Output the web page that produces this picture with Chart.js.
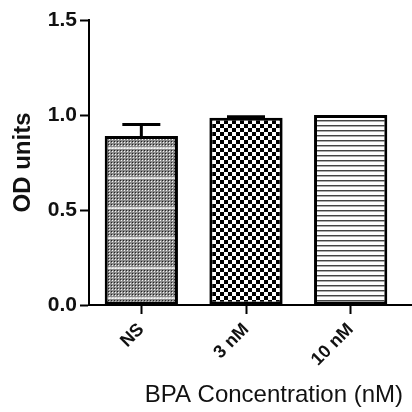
<!DOCTYPE html>
<html>
<head>
<meta charset="utf-8">
<script src="https://cdn.jsdelivr.net/npm/chart.js@4.4.1/dist/chart.umd.min.js"></script>
<style>
html,body{margin:0;padding:0;background:#fff;}
#wrap{width:412px;height:412px;position:relative;}
</style>
</head>
<body>
<div id="wrap"><canvas id="c" width="412" height="412"></canvas></div>
<script>
const categories = ['NS', '3 nM', '10 nM'];
const odValues = [0.89, 0.985, 1.0];
const odErrors = [0.06, 0.006, 0.0];
const yTickValues = [0.0, 0.5, 1.0, 1.5];
const yTitle = 'OD units';
const xTitle = 'BPA Concentration (nM)';

const canvas = document.getElementById('c');
const ctx = canvas.getContext('2d');

function makePattern(w, h, draw) {
  const c = document.createElement('canvas');
  c.width = w; c.height = h;
  const g = c.getContext('2d');
  draw(g);
  return ctx.createPattern(c, 'repeat');
}

// fine dotted grey with faint light stripes
const patDots = makePattern(3, 30, g => {
  g.fillStyle = '#8a8a8a'; g.fillRect(0, 0, 3, 30);
  for (let y = 0; y < 30; y += 3) {
    g.fillStyle = '#222'; g.fillRect(0, y, 1, 1);
    g.fillStyle = '#f4f4f4'; g.fillRect(1, y + 1, 1, 1);
  }
  g.fillStyle = 'rgba(255,255,255,0.7)'; g.fillRect(0, 27, 3, 2);
});
// checkerboard
const patCheck = makePattern(8, 8, g => {
  g.fillStyle = '#fff'; g.fillRect(0, 0, 8, 8);
  g.fillStyle = '#000';
  g.fillRect(0, 0, 4, 4);
  g.fillRect(4, 4, 4, 4);
});
// horizontal lines
const patLines = makePattern(4, 5, g => {
  g.fillStyle = '#fff'; g.fillRect(0, 0, 4, 5);
  g.fillStyle = '#444'; g.fillRect(0, 0, 4, 1);
  g.fillStyle = '#aaa'; g.fillRect(0, 1, 4, 1);
});

const errorBars = {
  id: 'errorBars',
  afterDatasetsDraw(chart) {
    const meta = chart.getDatasetMeta(0);
    const ys = chart.scales.y;
    const c = chart.ctx;
    c.save();
    c.strokeStyle = '#000';
    c.lineWidth = 3;
    meta.data.forEach((bar, i) => {
      const err = odErrors[i];
      if (!err) return;
      const yTop = ys.getPixelForValue(odValues[i] + err);
      const yBar = ys.getPixelForValue(odValues[i]);
      c.beginPath();
      c.moveTo(bar.x, yBar);
      c.lineTo(bar.x, yTop);
      c.moveTo(bar.x - 19, yTop);
      c.lineTo(bar.x + 19, yTop);
      c.stroke();
    });
    // extend x axis line to the right edge
    const xs = chart.scales.x;
    c.beginPath();
    c.lineWidth = 2;
    c.moveTo(xs.right - 1, ys.bottom);
    c.lineTo(chart.width, ys.bottom);
    c.stroke();
    c.restore();
  }
};

new Chart(canvas, {
  type: 'bar',
  data: {
    labels: categories,
    datasets: [{
      data: odValues,
      backgroundColor: [patDots, patCheck, patLines],
      borderColor: '#000',
      borderWidth: 3,
      borderSkipped: false,
      categoryPercentage: 1.0,
      barPercentage: 0.7
    }]
  },
  options: {
    responsive: false,
    animation: false,
    devicePixelRatio: 1,
    layout: { padding: { top: 20, right: 9, bottom: 2, left: 0 } },
    plugins: { legend: { display: false }, tooltip: { enabled: false } },
    scales: {
      x: {
        afterFit(scale) { scale.height = 105; },
        grid: { display: true, offset: false, drawOnChartArea: false, drawTicks: true, tickLength: 9, tickWidth: 2, color: '#000' },
        border: { display: true, color: '#000', width: 2 },
        ticks: {
          color: '#111', minRotation: 45, maxRotation: 45, padding: 5,
          font: { family: 'Liberation Sans', size: 18, weight: 'bold' }
        },
        title: {
          display: true, text: xTitle, align: 'end', color: '#111',
          font: { family: 'Liberation Sans', size: 24 },
          padding: { top: 4, bottom: 0 }
        }
      },
      y: {
        min: 0, max: 1.5,
        afterFit(scale) { scale.width = 89; },
        afterBuildTicks(scale) { scale.ticks = yTickValues.map(v => ({ value: v })); },
        grid: { display: true, drawOnChartArea: false, drawTicks: true, tickLength: 9, tickWidth: 2, color: '#000' },
        border: { display: true, color: '#000', width: 2 },
        ticks: {
          color: '#111', padding: 3,
          font: { family: 'Liberation Sans', size: 21, weight: 'bold' },
          callback: v => Number(v).toFixed(1)
        },
        title: {
          display: true, text: yTitle, color: '#111',
          font: { family: 'Liberation Sans', size: 24, weight: 'bold' },
          padding: { top: 9, bottom: 0 }
        }
      }
    }
  },
  plugins: [errorBars]
});
</script>
</body>
</html>
